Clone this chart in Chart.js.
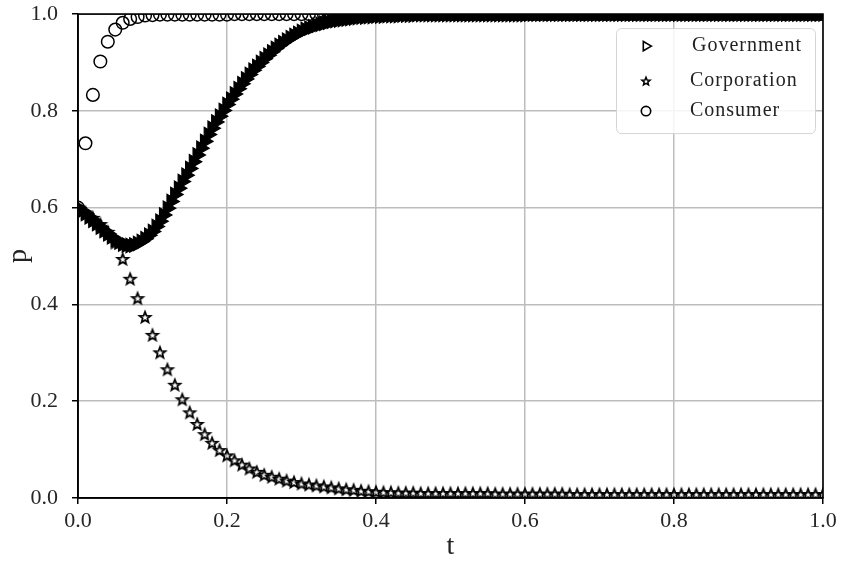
<!DOCTYPE html>
<html><head><meta charset="utf-8">
<script src="https://cdn.jsdelivr.net/npm/chart.js@4"></script>
<style>html,body{margin:0;padding:0;background:#fff}#wrap{width:846px;height:565px}</style>
</head><body><div id="wrap"><canvas id="c" width="846" height="565"></canvas></div>
<script>
const seriesNames = ['Government', 'Corporation', 'Consumer'];
const xTickLabels = ['0.0', '0.2', '0.4', '0.6', '0.8', '1.0'];
const yTickLabels = ['0.0', '0.2', '0.4', '0.6', '0.8', '1.0'];
const axisTitles = ['t', 'p'];

// Government sampled every 0.005 in t
const govStep = 0.005;
const govValues = [
  0.600,0.594,0.588,0.581,0.574,0.567,0.560,0.553,0.546,0.540,
  0.534,0.529,0.525,0.523,0.522,0.523,0.526,0.530,0.536,0.543,
  0.551,0.561,0.572,0.585,0.599,0.613,0.627,0.640,0.654,0.667,
  0.681,0.695,0.709,0.723,0.737,0.751,0.764,0.777,0.789,0.801,
  0.813,0.824,0.835,0.846,0.856,0.866,0.875,0.884,0.892,0.900,
  0.908,0.915,0.922,0.929,0.935,0.941,0.946,0.951,0.956,0.960,
  0.964,0.968,0.971,0.974,0.977,0.979,0.981,0.983,0.985,0.987,
  0.988,0.989,0.990,0.991,0.992,0.993,0.994,0.994,0.995,0.995,
  0.996,0.996,0.996,0.997,0.997,0.997,0.997,0.998,0.998,0.998,
  0.998,0.999,0.999,0.999,0.999,0.999,0.999,0.999,0.999,0.999,
  0.999,0.999,0.999,0.999,0.999,0.999,0.999,0.999,0.999,0.999,
  0.999,0.999,0.999,0.999,0.999,0.999,0.999,0.999,0.999,0.999,
  0.999,1.000,1.000,1.000,1.000,1.000,1.000,1.000,1.000,1.000,
  1.000,1.000,1.000,1.000,1.000,1.000,1.000,1.000,1.000,1.000,
  1.000,1.000,1.000,1.000,1.000,1.000,1.000,1.000,1.000,1.000,
  1.000,1.000,1.000,1.000,1.000,1.000,1.000,1.000,1.000,1.000,
  1.000,1.000,1.000,1.000,1.000,1.000,1.000,1.000,1.000,1.000,
  1.000,1.000,1.000,1.000,1.000,1.000,1.000,1.000,1.000,1.000,
  1.000,1.000,1.000,1.000,1.000,1.000,1.000,1.000,1.000,1.000,
  1.000,1.000,1.000,1.000,1.000,1.000,1.000,1.000,1.000,1.000,
  1.000
];

// Corporation sampled every 0.01 in t
const corpStep = 0.01;
const corpValues = [
  0.600,0.590,0.579,0.566,0.550,0.528,0.494,0.453,0.413,0.374,
  0.337,0.301,0.266,0.234,0.204,0.177,0.153,0.132,0.114,0.099,
  0.088,0.078,0.069,0.061,0.054,0.048,0.044,0.040,0.036,0.033,
  0.030,0.028,0.026,0.024,0.022,0.020,0.018,0.017,0.015,0.014,
  0.013,0.012,0.012,0.011,0.011,0.011,0.010,0.010,0.010,0.010,
  0.010,0.010,0.010,0.010,0.010,0.010,0.009,0.009,0.009,0.009,
  0.009,0.009,0.009,0.009,0.009,0.009,0.008,0.008,0.008,0.008,
  0.008,0.008,0.008,0.008,0.008,0.008,0.008,0.008,0.008,0.008,
  0.008,0.008,0.008,0.008,0.008,0.008,0.008,0.008,0.008,0.008,
  0.008,0.008,0.008,0.008,0.008,0.008,0.008,0.008,0.008,0.008,
  0.008
];

// Consumer sampled every 0.01 in t
const consStep = 0.01;
const consValues = [
  0.600,0.733,0.833,0.902,0.943,0.968,0.982,0.990,0.994,0.997,
  0.998,0.999,0.999,0.999,0.999,0.999,0.999,0.999,0.999,0.999,
  0.999,1.000,1.000,1.000,1.000,1.000,1.000,1.000,1.000,1.000,
  1.000,1.000,1.000,1.000,1.000,1.000,1.000,1.000,1.000,1.000,
  1.000,1.000,1.000,1.000,1.000,1.000,1.000,1.000,1.000,1.000,
  1.000,1.000,1.000,1.000,1.000,1.000,1.000,1.000,1.000,1.000,
  1.000,1.000,1.000,1.000,1.000,1.000,1.000,1.000,1.000,1.000,
  1.000,1.000,1.000,1.000,1.000,1.000,1.000,1.000,1.000,1.000,
  1.000,1.000,1.000,1.000,1.000,1.000,1.000,1.000,1.000,1.000,
  1.000,1.000,1.000,1.000,1.000,1.000,1.000,1.000,1.000,1.000,
  1.000
];

const toPoints = (vals, step) => vals.map((p, i) => ({x: +(i * step).toFixed(4), y: p}));

function starPath(g, cx, cy, R, r) {
  g.beginPath();
  for (let i = 0; i < 10; i++) {
    const rr = i % 2 ? r : R;
    const a = -Math.PI / 2 + i * Math.PI / 5;
    const px = cx + rr * Math.cos(a), py = cy + rr * Math.sin(a);
    if (i === 0) g.moveTo(px, py); else g.lineTo(px, py);
  }
  g.closePath();
}
function makeStar(R, r, lw) {
  const s = Math.ceil(2 * R + 2 * lw + 2);
  const c = document.createElement('canvas');
  c.width = s; c.height = s;
  const g = c.getContext('2d');
  starPath(g, s / 2, s / 2 + R * 0.1, R, r);
  g.lineWidth = lw; g.strokeStyle = '#000'; g.lineJoin = 'miter';
  g.stroke();
  return c;
}
const starImg = makeStar(5.8, 2.5, 1.8);

const FONT = "'Liberation Serif', 'Times New Roman', serif";

const framePlugin = {
  id: 'frame',
  afterDatasetsDraw(chart) {
    const {ctx, chartArea: a} = chart;
    ctx.save();
    ctx.strokeStyle = '#000';
    ctx.lineWidth = 1.6;
    ctx.strokeRect(a.left, a.top, a.right - a.left, a.bottom - a.top);
    ctx.restore();
  }
};

const legendPlugin = {
  id: 'boxLegend',
  afterDraw(chart) {
    const {ctx, chartArea: a} = chart;
    const w = 199, h = 105;
    const x = a.right - 8 - w, y = a.top + 14;
    ctx.save();
    ctx.beginPath();
    ctx.roundRect(x + 0.5, y + 0.5, w, h, 5);
    ctx.fillStyle = 'rgba(255,255,255,0.85)';
    ctx.fill();
    ctx.strokeStyle = '#d4d4d4';
    ctx.lineWidth = 1;
    ctx.stroke();
    const rows = [y + 18, y + 53, y + 83];
    const mx = x + 30;
    ctx.strokeStyle = '#000';
    ctx.lineWidth = 1.6;
    // triangle right
    let cy = rows[0], r = 5.4;
    ctx.beginPath();
    ctx.moveTo(mx + r, cy);
    ctx.lineTo(mx - r * 0.5, cy - r * 0.866);
    ctx.lineTo(mx - r * 0.5, cy + r * 0.866);
    ctx.closePath();
    ctx.stroke();
    // star
    starPath(ctx, mx, rows[1] + 0.4, 4.3, 1.9);
    ctx.lineWidth = 1.5;
    ctx.stroke();
    // circle
    ctx.beginPath();
    ctx.arc(mx, rows[2], 4.7, 0, Math.PI * 2);
    ctx.lineWidth = 1.6;
    ctx.stroke();
    ctx.fillStyle = '#222';
    ctx.font = '20px ' + FONT;
    if ('letterSpacing' in ctx) ctx.letterSpacing = '1px';
    ctx.textBaseline = 'middle';
    ctx.textAlign = 'left';
    const tx = [x + 76, x + 74, x + 74];
    seriesNames.forEach((n, i) => ctx.fillText(n, tx[i], rows[i]));
    ctx.restore();
  }
};

new Chart(document.getElementById('c'), {
  type: 'scatter',
  data: {
    datasets: [
      {
        label: seriesNames[0],
        data: toPoints(govValues, govStep),
        pointStyle: 'triangle',
        rotation: 90,
        pointRadius: 8.3,
        borderColor: '#000',
        backgroundColor: '#000',
        borderWidth: 1.2,
        clip: 0,
        order: 1
      },
      {
        label: seriesNames[1],
        data: toPoints(corpValues, corpStep),
        pointStyle: starImg,
        pointRadius: 5,
        borderColor: '#000',
        backgroundColor: 'rgba(0,0,0,0)',
        clip: 0,
        order: 0
      },
      {
        label: seriesNames[2],
        data: toPoints(consValues, consStep),
        pointStyle: 'circle',
        pointRadius: 6.3,
        borderColor: '#000',
        backgroundColor: 'rgba(0,0,0,0)',
        borderWidth: 1.5,
        clip: 0,
        order: 2
      }
    ]
  },
  options: {
    responsive: false,
    animation: false,
    devicePixelRatio: 1,
    events: [],
    layout: {padding: {top: 14, right: 23, left: 0, bottom: 0}},
    plugins: {legend: {display: false}, tooltip: {enabled: false}},
    scales: {
      x: {
        type: 'linear', min: 0, max: 1,
        afterFit(s) { s.height = 67; },
        ticks: {
          stepSize: 0.2, padding: 4, color: '#262626',
          font: {family: FONT, size: 22},
          callback: (v, i) => xTickLabels[i]
        },
        grid: {color: '#bdbdbd', lineWidth: 1.5, tickColor: '#000', tickLength: 6, tickWidth: 1.5},
        border: {color: '#000', width: 1.6},
        title: {display: true, text: axisTitles[0], color: '#222', font: {family: FONT, size: 28}, padding: {top: 0, bottom: 2}}
      },
      y: {
        type: 'linear', min: 0, max: 1,
        afterFit(s) { s.width = 78; },
        ticks: {
          stepSize: 0.2, padding: 14, color: '#262626',
          font: {family: FONT, size: 22, lineHeight: 0.01},
          callback: (v, i) => yTickLabels[i]
        },
        grid: {color: '#bdbdbd', lineWidth: 1.5, tickColor: '#000', tickLength: 6, tickWidth: 1.5},
        border: {color: '#000', width: 1.6},
        title: {display: true, text: axisTitles[1], color: '#222', font: {family: FONT, size: 28}, padding: {top: 2, bottom: 0}}
      }
    }
  },
  plugins: [framePlugin, legendPlugin]
});
</script>
</body></html>
